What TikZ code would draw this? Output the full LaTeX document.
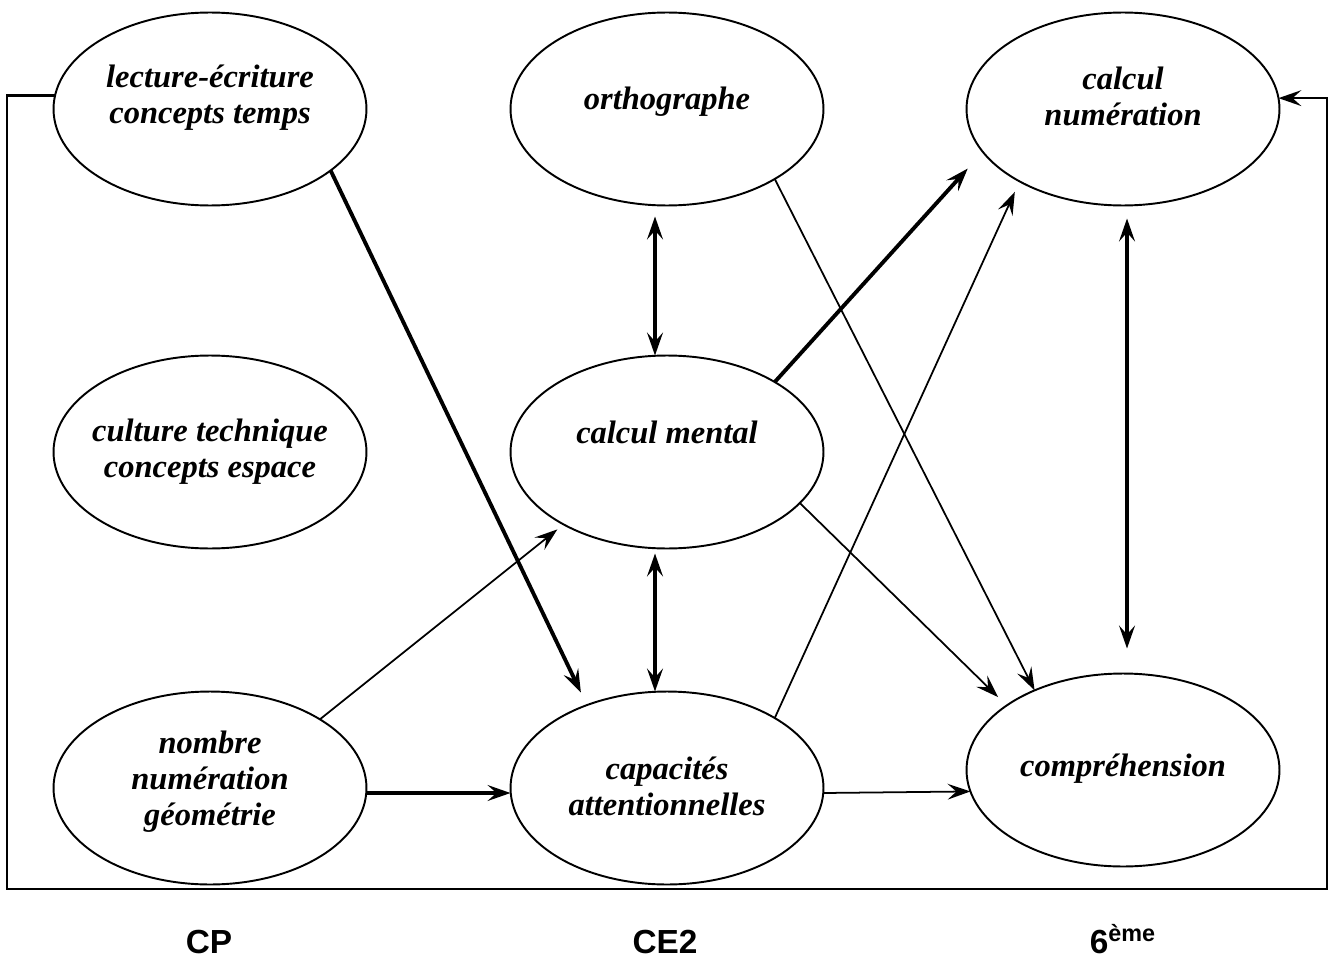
\documentclass[tikz,border=0pt]{standalone}
\usepackage{fontspec}
\setmainfont{Liberation Serif}
\setsansfont{Liberation Sans}
\usetikzlibrary{calc,arrows.meta,shapes.geometric}

\begin{document}
\begin{tikzpicture}[x=0.02cm,y=-0.02cm,
    >={Stealth[length=13pt,width=9pt,inset=5pt]},
    bulle/.style={draw,ellipse,line width=1.1pt,minimum width=6.26cm,minimum height=3.86cm,inner sep=0pt,outer sep=0pt},
    etiq/.style={align=center,font=\fontsize{18.5}{20.5}\selectfont\bfseries\itshape},
    niveau/.style={anchor=base,font=\fontsize{19}{22}\selectfont\sffamily\bfseries},
    fin/.style={->,line width=1pt},
    gros/.style={->,line width=2.2pt}]
  \useasboundingbox (0,0) rectangle (1332,963);
  % les bulles
  \node [bulle] (lec)      at (210,109) {};
  \node [bulle] (ortho)    at (667,109) {};
  \node [bulle] (calcnum)  at (1123,109) {};
  \node [bulle] (cult)     at (210,452) {};
  \node [bulle] (calcment) at (667,452) {};
  \node [bulle] (nomb)     at (210,788) {};
  \node [bulle] (capa)     at (667,788) {};
  \node [bulle] (compr)    at (1123,770) {};
  % les textes
  \node [etiq] (lec-t)      at (210,98)  {lecture-écriture\\concepts temps};
  \node [etiq] (ortho-t)    at (667,102) {orthographe};
  \node [etiq] (calcnum-t)  at (1123,96) {calcul\\numération};
  \node [etiq] (cult-t)     at (210,452) {culture technique\\concepts espace};
  \node [etiq] (calcment-t) at (667,432) {calcul mental};
  \node [etiq] (nomb-t)     at (210,782) {nombre\\numération\\géométrie};
  \node [etiq] (capa-t)     at (667,786) {capacités\\attentionnelles};
  \node [etiq] (compr-t)    at (1123,769) {compréhension};
  % les niveaux
  \node [niveau] (cp)    at (209,953)  {CP};
  \node [niveau] (ce2)   at (665,953)  {CE2};
  \node [niveau] (sixe)  at (1123,953) {6\textsuperscript{ème}};
  % les liens
  \draw [gros,shorten >=0.28cm] (lec.-27) -- (capa.134);
  \draw [gros,<->] ($(ortho.south)+(-12,11)$) -- ($(calcment.north)+(-12,0)$);
  \draw [gros,<->] ($(calcment.south)+(-12,5)$) -- ($(capa.north)+(-12,0)$);
  \draw [gros,shorten >=0.45cm] (calcment.33) -- (calcnum.197);
  \draw [fin] (ortho.-33) -- (compr.138);
  \draw [fin,shorten >=0.23cm] (capa.33) -- (calcnum.215);
  \draw [fin,shorten >=0.24cm] (calcment.-21) -- (compr.151);
  \draw [gros,<->] ($(calcnum.south)+(4,13)$) -- ($(compr.north)+(4,-25)$);
  \draw [fin,shorten >=0.16cm] (nomb.32.5) -- (calcment.215);
  \draw [gros] ($(nomb.east)+(0,5)$) -- ($(capa.west)+(0,5)$);
  \draw [fin] ($(capa.east)+(0,5)$) -- (compr.188.6);
  % le cadre
  \coordinate (cadre-g) at (7,889);
  \coordinate (cadre-d) at (1327,889);
  \draw [fin,line width=1.4pt] (lec.175.6) -| (cadre-g) -- (cadre-d) |- (calcnum.4.4);
\end{tikzpicture}
\end{document}
